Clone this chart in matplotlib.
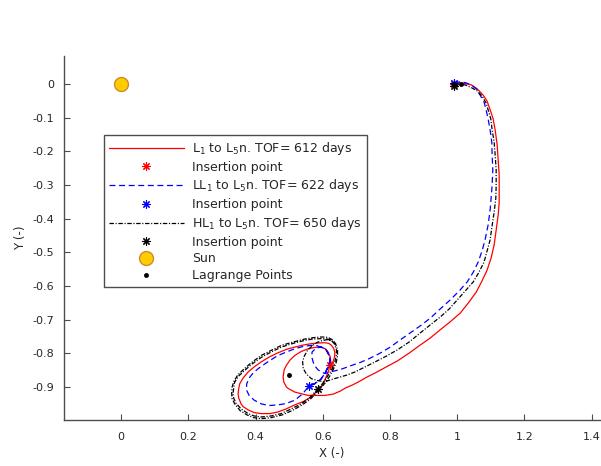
"""
L1 / LL1 / HL1 to L5 transfer trajectories, rotating frame
"""

import matplotlib
matplotlib.use('Agg')
import matplotlib.pyplot as plt

plt.rcParams['font.family'] = 'DejaVu Sans'
plt.rcParams['font.size'] = 8
plt.rcParams['axes.unicode_minus'] = False
plt.rcParams['lines.scale_dashes'] = False

TEXT_COLOR = '#262626'
AXIS_COLOR = '#4d4d4d'

# ================== data ==================
# L1 -> L5 transfer, TOF 612 days
red_x = [0.991, 1.006, 1.024, 1.042, 1.060, 1.077, 1.089, 1.098, 1.107, 1.113,
         1.119, 1.122, 1.125, 1.125, 1.125, 1.122, 1.116, 1.110, 1.101, 1.089,
         1.074, 1.057, 1.033, 1.009, 0.979, 0.949, 0.920, 0.890, 0.857, 0.821,
         0.789, 0.756, 0.732, 0.711, 0.688, 0.667, 0.652,
         # loop around L5
         0.631, 0.606, 0.580, 0.557, 0.533, 0.517, 0.500, 0.492, 0.484, 0.482,
         0.485, 0.492, 0.503, 0.517, 0.536, 0.557, 0.577, 0.596, 0.609, 0.616,
         0.622, 0.624, 0.621,
         # final orbit
         0.618, 0.610, 0.601, 0.586, 0.565, 0.542, 0.517, 0.491, 0.467, 0.443,
         0.417, 0.396, 0.378, 0.363, 0.357, 0.350, 0.348, 0.350, 0.353, 0.363,
         0.378, 0.396, 0.417, 0.440, 0.467, 0.491, 0.517, 0.542, 0.565, 0.586,
         0.606, 0.618, 0.625, 0.632, 0.636, 0.635, 0.631, 0.621]
red_y = [0.001, 0.004, 0.002, -0.002, -0.014, -0.032, -0.050, -0.076, -0.103, -0.136,
         -0.181, -0.225, -0.270, -0.315, -0.353, -0.389, -0.434, -0.478, -0.517, -0.553,
         -0.585, -0.618, -0.651, -0.681, -0.707, -0.731, -0.755, -0.776, -0.800, -0.824,
         -0.841, -0.859, -0.871, -0.883, -0.895, -0.904, -0.913,
         -0.922, -0.926, -0.926, -0.926, -0.920, -0.916, -0.907, -0.901, -0.886, -0.871,
         -0.850, -0.836, -0.820, -0.807, -0.795, -0.787, -0.783, -0.782, -0.788, -0.797,
         -0.810, -0.826, -0.836,
         -0.850, -0.871, -0.892, -0.910, -0.931, -0.944, -0.954, -0.966, -0.975, -0.980,
         -0.980, -0.977, -0.969, -0.959, -0.951, -0.934, -0.921, -0.905, -0.891, -0.874,
         -0.856, -0.841, -0.826, -0.812, -0.799, -0.789, -0.782, -0.776, -0.772, -0.770,
         -0.769, -0.771, -0.776, -0.785, -0.797, -0.812, -0.825, -0.836]

# LL1 -> L5 transfer, TOF 622 days
blue_x = [0.991, 1.006, 1.024, 1.042, 1.057, 1.068, 1.080, 1.086, 1.092, 1.098,
          1.103, 1.104, 1.106, 1.104, 1.101, 1.098, 1.092, 1.083, 1.074, 1.0625,
          1.048, 1.030, 1.006, 0.979, 0.949, 0.920, 0.890, 0.860, 0.830, 0.801,
          0.771, 0.741, 0.711, 0.682, 0.652, 0.622,
          0.606, 0.586, 0.574, 0.568, 0.568, 0.580, 0.595, 0.609, 0.616, 0.621,
          0.621, 0.616, 0.607, 0.595, 0.576, 0.5595,
          0.539, 0.517, 0.491, 0.467, 0.440, 0.417, 0.396, 0.381, 0.373, 0.3735,
          0.381, 0.393, 0.408, 0.429, 0.449, 0.467, 0.491, 0.517, 0.542, 0.565,
          0.580, 0.595, 0.609, 0.616, 0.621, 0.621, 0.616, 0.607, 0.595, 0.576,
          0.5595]
blue_y = [0.004, 0.007, 0.005, -0.002, -0.014, -0.032, -0.053, -0.076, -0.103, -0.136,
          -0.172, -0.210, -0.255, -0.300, -0.339, -0.374, -0.419, -0.463, -0.496, -0.529,
          -0.559, -0.588, -0.615, -0.642, -0.669, -0.696, -0.719, -0.740, -0.761, -0.782,
          -0.800, -0.815, -0.828, -0.838, -0.849, -0.856,
          -0.861, -0.850, -0.835, -0.814, -0.797, -0.785, -0.782, -0.789, -0.801, -0.815,
          -0.826, -0.841, -0.859, -0.877, -0.891, -0.898,
          -0.922, -0.940, -0.950, -0.954, -0.956, -0.951, -0.940, -0.926, -0.910, -0.892,
          -0.874, -0.859, -0.846, -0.831, -0.818, -0.807, -0.797, -0.787, -0.780, -0.777,
          -0.777, -0.782, -0.789, -0.801, -0.815, -0.826, -0.841, -0.859, -0.877, -0.891,
          -0.898]

# HL1 -> L5 transfer, TOF 650 days (final orbit drawn twice)
black_x = [0.991, 1.006, 1.024, 1.042, 1.060, 1.074, 1.086, 1.092, 1.100, 1.104,
           1.110, 1.113, 1.116, 1.116, 1.115, 1.110, 1.104, 1.098, 1.089, 1.080,
           1.065, 1.048, 1.024, 1.000, 0.976, 0.949, 0.920, 0.890, 0.857, 0.821,
           0.789, 0.756, 0.726, 0.696, 0.673, 0.652, 0.631,
           0.606, 0.586, 0.566, 0.551, 0.542, 0.540, 0.545, 0.555, 0.568, 0.583,
           0.598, 0.613,
           0.626, 0.635, 0.641, 0.640, 0.636, 0.628, 0.616, 0.603, 0.586, 0.5625,
           0.536, 0.506, 0.476, 0.446, 0.417, 0.396, 0.378, 0.357, 0.342, 0.335,
           0.333, 0.335, 0.338, 0.350, 0.368, 0.390, 0.418, 0.446, 0.477, 0.512,
           0.547, 0.571, 0.596, 0.613, 0.626,
           0.638, 0.644, 0.644, 0.640, 0.632, 0.621, 0.607, 0.589, 0.565, 0.539,
           0.509, 0.479, 0.446, 0.417, 0.394, 0.375, 0.354, 0.338, 0.330, 0.329,
           0.330, 0.335, 0.347, 0.366, 0.388, 0.417, 0.446, 0.477, 0.512, 0.547,
           0.571, 0.596, 0.615, 0.628, 0.638]
black_y = [-0.005, -0.001, -0.002, -0.010, -0.020, -0.035, -0.056, -0.076, -0.103, -0.136,
           -0.172, -0.210, -0.255, -0.300, -0.339, -0.380, -0.421, -0.463, -0.496, -0.529,
           -0.559, -0.588, -0.615, -0.642, -0.669, -0.693, -0.716, -0.740, -0.767, -0.791,
           -0.809, -0.826, -0.841, -0.856, -0.865, -0.871, -0.877,
           -0.885, -0.882, -0.876, -0.862, -0.846, -0.826, -0.809, -0.791, -0.779, -0.768,
           -0.763, -0.760,
           -0.763, -0.773, -0.792, -0.809, -0.826, -0.846, -0.866, -0.886, -0.906, -0.931,
           -0.951, -0.966, -0.980, -0.987, -0.990, -0.987, -0.980, -0.966, -0.949, -0.934,
           -0.921, -0.904, -0.886, -0.868, -0.851, -0.832, -0.812, -0.797, -0.782, -0.771,
           -0.762, -0.758, -0.757, -0.758, -0.763,
           -0.771, -0.791, -0.809, -0.828, -0.847, -0.868, -0.889, -0.910, -0.935, -0.954,
           -0.971, -0.984, -0.992, -0.995, -0.992, -0.984, -0.971, -0.951, -0.935, -0.920,
           -0.902, -0.885, -0.865, -0.847, -0.828, -0.807, -0.792, -0.777, -0.767, -0.758,
           -0.754, -0.752, -0.753, -0.760, -0.771]

# insertion points (start and arrival)
red_ins_x = [0.990, 0.621]
red_ins_y = [0.000, -0.836]
blue_ins_x = [0.991, 0.5595]
blue_ins_y = [0.005, -0.898]
black_ins_x = [0.991, 0.586]
black_ins_y = [-0.005, -0.906]

sun_x, sun_y = 0.0, 0.0

# L1, L2, L3, L4, L5
lag_x = [0.990, 1.010, -1.000, 0.500, 0.500]
lag_y = [0.000, 0.000, 0.000, 0.866, -0.866]

labels = ['L$_1$ to L$_5$n. TOF= 612 days', 'Insertion point',
          'LL$_1$ to L$_5$n. TOF= 622 days', 'Insertion point',
          'HL$_1$ to L$_5$n. TOF= 650 days', 'Insertion point',
          'Sun', 'Lagrange Points']

x_ticks = [0, 0.2, 0.4, 0.6, 0.8, 1.0, 1.2, 1.4]
y_ticks = [0, -0.1, -0.2, -0.3, -0.4, -0.5, -0.6, -0.7, -0.8, -0.9]

# ================== plot ==================
fig = plt.figure(figsize=(6.01, 4.66), dpi=100)
ax = fig.add_axes([64 / 601, 46 / 466, 536 / 601, 364 / 466])

star = (8, 2, 0)
lw = 0.9
ax.plot(red_x, red_y, color='red', lw=lw, label=labels[0])
ax.plot(red_ins_x, red_ins_y, ls='none', marker=star, ms=6, mew=0.8, color='red', label=labels[1])
ax.plot(blue_x, blue_y, color='blue', lw=lw, dashes=(4.3, 2.6), label=labels[2])
ax.plot(blue_ins_x, blue_ins_y, ls='none', marker=star, ms=6, mew=0.8, color='blue', label=labels[3])
ax.plot(black_x, black_y, color='black', lw=lw, dashes=(3.2, 1.2, 0.8, 1.2), label=labels[4])
ax.plot(black_ins_x, black_ins_y, ls='none', marker=star, ms=6, mew=0.8, color='black', label=labels[5])
ax.plot(sun_x, sun_y, ls='none', marker='o', ms=10, mfc='#ffcc00', mec='#d08a2a', mew=1, label=labels[6])
ax.plot(lag_x, lag_y, ls='none', marker='.', ms=5, color='black', label=labels[7])

ax.set_xlim(-0.17, 1.425)
ax.set_ylim(-0.999, 0.084)

ax.set_xticks(x_ticks)
ax.set_xticklabels(['%g' % v for v in x_ticks])
ax.set_yticks(y_ticks)
ax.set_yticklabels(['%g' % v for v in y_ticks])
ax.tick_params(direction='in', length=4, width=0.8, color=AXIS_COLOR,
               labelcolor=TEXT_COLOR, labelsize=8)
ax.tick_params(axis='x', pad=9)
ax.tick_params(axis='y', pad=7)

for side in ['top', 'right']:
    ax.spines[side].set_visible(False)
for side in ['left', 'bottom']:
    ax.spines[side].set_color(AXIS_COLOR)
    ax.spines[side].set_linewidth(1.0)

ax.set_xlabel('X (-)', color=TEXT_COLOR, fontsize=8.5, labelpad=3)
ax.set_ylabel('Y (-)', color=TEXT_COLOR, fontsize=8.5, labelpad=4)

leg = ax.legend(loc='upper left', bbox_to_anchor=(0.0746, 0.783), borderaxespad=0,
                fancybox=False, framealpha=1, edgecolor=AXIS_COLOR, fontsize=9,
                handlelength=6.0, handletextpad=0.64, borderpad=0.4, labelspacing=0.3,
                labelcolor=TEXT_COLOR)
leg.get_frame().set_linewidth(1.0)

fig.savefig('out.png', dpi=100)
